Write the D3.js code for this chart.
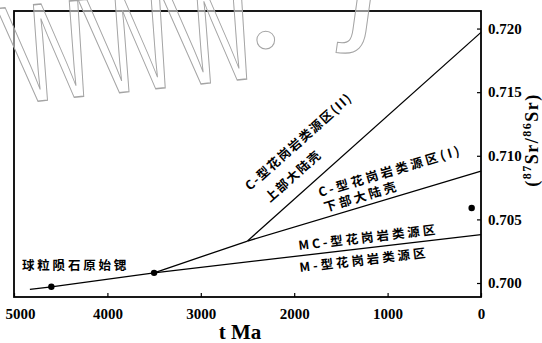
<!DOCTYPE html>
<html>
<head>
<meta charset="utf-8">
<script src="https://cdn.jsdelivr.net/npm/d3@7/dist/d3.min.js"></script>
<style>
  html, body { margin: 0; padding: 0; background: #fff; }
  svg { display: block; }
</style>
</head>
<body>
<script>
// Sr isotope evolution: age (Ma) and initial 87Sr/86Sr
const xTicks = [5000, 4000, 3000, 2000, 1000, 0];
const yTicks = [0.700, 0.705, 0.710, 0.715, 0.720];

// chondritic (primordial) evolution line
const chondriteAge = [4830, 4600, 3500];
const chondriteSr  = [0.6995, 0.6997, 0.7008];

// M-type / MC-type boundary
const mAge = [3500, 0];
const mSr  = [0.7008, 0.7038];

// continental stem before the crustal split
const stemAge = [3500, 2500];
const stemSr  = [0.7008, 0.7033];

// C-type source (I): lower continental crust
const c1Age = [2500, 0];
const c1Sr  = [0.7033, 0.7088];

// C-type source (II): upper continental crust
const c2Age = [2500, 0];
const c2Sr  = [0.7033, 0.7197];

// plotted samples
const dotAge = [4600, 3500, 100];
const dotSr  = [0.6997, 0.7008, 0.7059];

const W = 542, H = 343;
const svg = d3.select("body").append("svg").attr("width", W).attr("height", H);

const x = d3.scaleLinear().domain([5000, 0]).range([14, 481]);
const y = d3.scaleLinear().domain([0.6989, 0.72138]).range([297, 11]);

const serif = "'Liberation Serif', 'Times New Roman', serif";
const cjk = "'Noto Sans CJK SC', 'Noto Sans', sans-serif";

// axes
const xAxis = d3.axisBottom(x).tickValues(xTicks).tickSizeInner(-4).tickSizeOuter(0)
  .tickPadding(11).tickFormat(d3.format("d"));
const gx = svg.append("g").attr("transform", `translate(0,${y.range()[0]})`).call(xAxis);
gx.select(".domain").remove();
gx.selectAll(".tick line").attr("stroke", "#000").attr("stroke-width", 1.2);
gx.selectAll(".tick text")
  .attr("font-family", serif).attr("font-weight", "bold").attr("font-size", 15).attr("fill", "#000")
  .filter(d => d === 5000).attr("text-anchor", "start").attr("x", -9);

const yAxis = d3.axisRight(y).tickValues(yTicks).tickSizeInner(-4).tickSizeOuter(0)
  .tickPadding(7).tickFormat(d3.format(".3f"));
const gy = svg.append("g").attr("transform", `translate(${x.range()[1]},0)`).call(yAxis);
gy.select(".domain").remove();
gy.selectAll(".tick line").attr("stroke", "#000").attr("stroke-width", 1.2);
gy.selectAll(".tick text")
  .attr("font-family", serif).attr("font-weight", "bold").attr("font-size", 15).attr("fill", "#000");

// frame
svg.append("rect")
  .attr("x", x.range()[0]).attr("y", y.range()[1])
  .attr("width", x.range()[1] - x.range()[0]).attr("height", y.range()[0] - y.range()[1])
  .attr("fill", "none").attr("stroke", "#000").attr("stroke-width", 1.8);

// evolution lines
const line = d3.line().x(d => x(d[0])).y(d => y(d[1]));
const series = [
  [chondriteAge, chondriteSr],
  [mAge, mSr],
  [stemAge, stemSr],
  [c1Age, c1Sr],
  [c2Age, c2Sr]
];
svg.append("g").selectAll("path").data(series).join("path")
  .attr("d", s => line(d3.zip(s[0], s[1])))
  .attr("fill", "none").attr("stroke", "#000").attr("stroke-width", 1.3);

svg.append("g").selectAll("circle").data(d3.zip(dotAge, dotSr)).join("circle")
  .attr("cx", d => x(d[0])).attr("cy", d => y(d[1])).attr("r", 3.2).attr("fill", "#000");

// slope angle (deg) of a segment on screen
function angleOf(ages, vals) {
  const dx = x(ages[1]) - x(ages[0]), dy = y(vals[1]) - y(vals[0]);
  return Math.atan2(dy, dx) * 180 / Math.PI;
}

// region labels
function label(px, py, ang, lines, ls) {
  const t = svg.append("text")
    .attr("transform", `translate(${px},${py}) rotate(${ang})`)
    .attr("font-family", cjk).attr("font-weight", 700).attr("font-size", 12.5)
    .attr("fill", "#000").attr("letter-spacing", ls);
  lines.forEach(l => t.append("tspan").attr("x", l.dx).attr("y", l.dy).text(l.text));
}

const aC2 = angleOf(c2Age, c2Sr);
const aC1 = angleOf(c1Age, c1Sr);
const aM = angleOf(mAge, mSr);

label(250, 191, aC2, [
  { text: "C-型花岗岩类源区(II)", dx: 0, dy: 0 },
  { text: "上部大陆壳", dx: 7, dy: 22 }
], 1.6);
label(320, 197, aC1, [
  { text: "C-型花岗岩类源区(I)", dx: 0, dy: 0 },
  { text: "下部大陆壳", dx: 1, dy: 16 }
], 3);
label(299, 250, aM, [{ text: "MC-型花岗岩类源区", dx: 0, dy: 0 }], 3);
label(300, 272, aM, [{ text: "M-型花岗岩类源区", dx: 0, dy: 0 }], 3);

svg.append("text").attr("x", 22).attr("y", 270)
  .attr("font-family", cjk).attr("font-weight", 700).attr("font-size", 12.5)
  .attr("letter-spacing", 2.8).attr("fill", "#000").text("球粒陨石原始锶");

// axis titles
svg.append("text").attr("x", 240).attr("y", 339).attr("text-anchor", "middle")
  .attr("font-family", serif).attr("font-weight", "bold").attr("font-size", 21)
  .attr("fill", "#000").text("t Ma");

const yt = svg.append("text").attr("transform", "translate(538,140) rotate(-90)")
  .attr("text-anchor", "middle").attr("font-family", serif).attr("font-weight", "bold")
  .attr("font-size", 18).attr("letter-spacing", 1.5).attr("fill", "#000");
yt.append("tspan").text("(");
yt.append("tspan").attr("font-size", 12).attr("baseline-shift", "super").text("87");
yt.append("tspan").text("Sr/");
yt.append("tspan").attr("font-size", 12).attr("baseline-shift", "super").text("86");
yt.append("tspan").text("Sr)");

// outlined site mark across the top
const wm = svg.append("g")
  .attr("fill", "#fff").attr("fill-opacity", 0.5)
  .attr("stroke", "#a4a4a4");
wm.append("text").attr("transform", "translate(20,103) rotate(-6) skewX(8) scale(0.62,1)")
  .attr("stroke-width", 1.5)
  .attr("font-family", "'Liberation Sans', sans-serif").attr("font-size", 140)
  .text("WWW");
wm.append("text").attr("x", 247).attr("y", 47).attr("stroke-width", 1)
  .attr("font-family", serif).attr("font-size", 150).text(".");
wm.append("text").attr("transform", "translate(344,22) skewX(-8)").attr("stroke-width", 1)
  .attr("font-family", "'Liberation Sans', sans-serif").attr("font-size", 150)
  .text("j");
</script>
</body>
</html>
